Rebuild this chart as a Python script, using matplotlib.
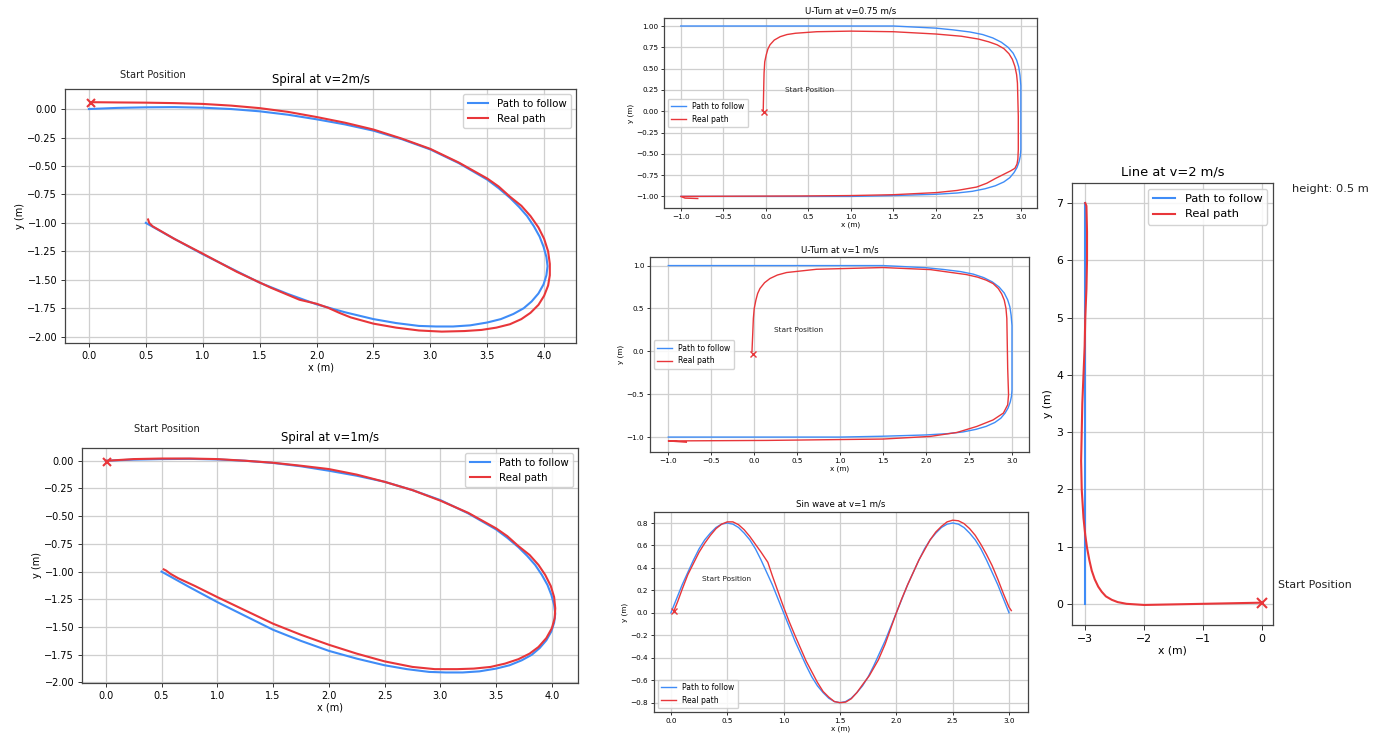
import matplotlib
matplotlib.use("Agg")
import matplotlib.pyplot as plt
from matplotlib.ticker import MultipleLocator

# ---- data ----
# spiral (same path to follow for both speeds)
spiral_path_x = [0, 0.25, 0.5, 0.75, 1.0, 1.25, 1.5, 1.75, 2.0, 2.25, 2.5, 2.75, 3.0, 3.25, 3.5, 3.6,
                 3.7, 3.78, 3.85, 3.91, 3.96, 3.995, 4.02, 4.03, 4.02, 3.995, 3.95, 3.89, 3.82, 3.73,
                 3.62, 3.5, 3.35, 3.2, 3.05, 2.9, 2.7, 2.5, 2.25, 2.0, 1.75, 1.5, 1.25, 1.0, 0.75, 0.5]
spiral_path_y = [0, 0.01, 0.015, 0.017, 0.012, 0.0, -0.02, -0.05, -0.09, -0.135, -0.19, -0.265, -0.355,
                 -0.475, -0.62, -0.695, -0.78, -0.86, -0.94, -1.03, -1.12, -1.21, -1.3, -1.38, -1.46,
                 -1.54, -1.62, -1.69, -1.75, -1.8, -1.845, -1.875, -1.9, -1.91, -1.91, -1.905, -1.88,
                 -1.845, -1.785, -1.715, -1.625, -1.525, -1.4, -1.275, -1.14, -1.0]

spiral2_real_x = [0.03, 0.25, 0.5, 0.75, 1.0, 1.25, 1.5, 1.75, 2.0, 2.25, 2.5, 2.75, 3.0, 3.25, 3.5, 3.6,
                  3.7, 3.8, 3.88, 3.95, 4.0, 4.035, 4.05, 4.05, 4.035, 4.0, 3.95, 3.88, 3.8, 3.7, 3.58,
                  3.45, 3.3, 3.1, 2.9, 2.7, 2.5, 2.3, 2.2, 2.1, 2.0, 1.85, 1.6, 1.3, 1.0, 0.75, 0.56,
                  0.53, 0.52]
spiral2_real_y = [0.06, 0.058, 0.056, 0.052, 0.045, 0.03, 0.008, -0.025, -0.07, -0.12, -0.18, -0.26,
                  -0.35, -0.47, -0.61, -0.68, -0.77, -0.85, -0.94, -1.04, -1.14, -1.25, -1.36, -1.46,
                  -1.55, -1.64, -1.72, -1.79, -1.845, -1.89, -1.92, -1.94, -1.95, -1.955, -1.945,
                  -1.92, -1.885, -1.83, -1.79, -1.745, -1.71, -1.675, -1.57, -1.43, -1.27, -1.14,
                  -1.03, -1.0, -0.97]
spiral2_start = (0.02, 0.05)

spiral1_real_x = [0.01, 0.25, 0.5, 0.75, 1.0, 1.25, 1.5, 1.75, 2.0, 2.25, 2.5, 2.75, 3.0, 3.25, 3.5, 3.6,
                  3.7, 3.8, 3.88, 3.94, 3.99, 4.02, 4.03, 4.025, 4.0, 3.95, 3.88, 3.8, 3.7, 3.58, 3.45,
                  3.3, 3.15, 2.95, 2.75, 2.5, 2.25, 2.0, 1.75, 1.5, 1.25, 1.0, 0.8, 0.65, 0.58, 0.54, 0.52]
spiral1_real_y = [0.0, 0.015, 0.02, 0.02, 0.015, 0.0, -0.018, -0.045, -0.075, -0.125, -0.19, -0.265,
                  -0.36, -0.47, -0.61, -0.68, -0.77, -0.85, -0.94, -1.03, -1.13, -1.23, -1.33, -1.42,
                  -1.51, -1.6, -1.68, -1.74, -1.79, -1.83, -1.86, -1.875, -1.88, -1.88, -1.86, -1.81,
                  -1.74, -1.66, -1.57, -1.47, -1.35, -1.23, -1.13, -1.06, -1.02, -0.99, -0.98]
spiral1_start = (0.01, -0.015)

# U-turn (same path to follow for both speeds)
uturn_path_x = [-1.0, 1.5, 2.0, 2.2, 2.4, 2.55, 2.67, 2.77, 2.85, 2.91, 2.95, 2.975, 2.99, 3.0, 3.0,
                2.995, 2.98, 2.955, 2.92, 2.87, 2.8, 2.7, 2.58, 2.43, 2.25, 2.0, 1.5, 1.0, -1.0]
uturn_path_y = [1.0, 1.0, 0.975, 0.955, 0.93, 0.9, 0.86, 0.81, 0.75, 0.68, 0.6, 0.52, 0.42, 0.3, -0.45,
                -0.52, -0.59, -0.66, -0.72, -0.78, -0.83, -0.875, -0.91, -0.94, -0.96, -0.975, -0.99,
                -1.0, -1.0]

uturn075_real_x = [-0.03, -0.023, -0.02, -0.012, 0.005, 0.025, 0.05, 0.1, 0.17, 0.25, 0.35, 0.6, 1.0,
                   1.5, 2.0, 2.3, 2.5, 2.62, 2.72, 2.8, 2.86, 2.9, 2.93, 2.95, 2.96, 2.97, 2.97, 2.965,
                   2.955, 2.93, 2.88, 2.8, 2.7, 2.6, 2.48, 2.25, 2.01, 1.5, 1.0, 0.4, -1.0, -0.95, -0.8]
uturn075_real_y = [0.0, 0.33, 0.45, 0.58, 0.66, 0.73, 0.78, 0.835, 0.875, 0.9, 0.915, 0.933, 0.94, 0.933,
                   0.906, 0.88, 0.847, 0.815, 0.78, 0.735, 0.675, 0.61, 0.526, 0.43, 0.33, -0.06, -0.45,
                   -0.56, -0.62, -0.67, -0.7, -0.74, -0.79, -0.845, -0.89, -0.93, -0.955, -0.98, -0.99,
                   -0.995, -1.0, -1.02, -1.025]
uturn075_start = (-0.023, -0.01)

uturn1_real_x = [-0.026, -0.018, -0.01, 0.0, 0.02, 0.04, 0.067, 0.12, 0.183, 0.27, 0.377, 0.726, 1.5,
                 2.05, 2.47, 2.6, 2.7, 2.78, 2.84, 2.88, 2.91, 2.93, 2.94, 2.95, 2.96, 2.95, 2.9, 2.78,
                 2.59, 2.36, 2.05, 1.5, 0.144, -1.0, -0.79]
uturn1_real_y = [0.0, 0.19, 0.384, 0.5, 0.6, 0.675, 0.733, 0.8, 0.849, 0.89, 0.919, 0.957, 0.977, 0.953,
                 0.895, 0.865, 0.83, 0.79, 0.733, 0.67, 0.597, 0.5, 0.384, -0.2, -0.508, -0.624, -0.72,
                 -0.8, -0.876, -0.946, -0.992, -1.023, -1.039, -1.045, -1.06]
uturn1_start = (-0.018, -0.03)

# sin wave
sin_path_x = [0.0, 0.05, 0.1, 0.15, 0.2, 0.25, 0.3, 0.35, 0.4, 0.45, 0.5, 0.55, 0.6, 0.65, 0.7, 0.75,
              0.8, 0.85, 0.9, 0.95, 1.0, 1.05, 1.1, 1.15, 1.2, 1.25, 1.3, 1.35, 1.4, 1.45, 1.5, 1.55,
              1.6, 1.65, 1.7, 1.75, 1.8, 1.85, 1.9, 1.95, 2.0, 2.05, 2.1, 2.15, 2.2, 2.25, 2.3, 2.35,
              2.4, 2.45, 2.5, 2.55, 2.6, 2.65, 2.7, 2.75, 2.8, 2.85, 2.9, 2.95, 3.0]
sin_path_y = [0.0, 0.125, 0.25, 0.36, 0.47, 0.57, 0.65, 0.71, 0.76, 0.79, 0.80, 0.79, 0.76, 0.71, 0.65,
              0.57, 0.47, 0.36, 0.25, 0.125, 0.0, -0.125, -0.25, -0.36, -0.47, -0.57, -0.65, -0.71,
              -0.76, -0.79, -0.80, -0.79, -0.76, -0.71, -0.65, -0.57, -0.47, -0.36, -0.25, -0.125, 0.0,
              0.125, 0.25, 0.36, 0.47, 0.57, 0.65, 0.71, 0.76, 0.79, 0.80, 0.79, 0.76, 0.71, 0.65,
              0.57, 0.47, 0.36, 0.25, 0.125, 0.0]
sin_real_x = [0.027, 0.06, 0.1, 0.15, 0.2, 0.25, 0.3, 0.35, 0.4, 0.45, 0.5, 0.55, 0.6, 0.65, 0.7, 0.75,
              0.8, 0.86, 0.9, 0.95, 1.0, 1.05, 1.1, 1.2, 1.3, 1.35, 1.4, 1.45, 1.5, 1.55, 1.6, 1.65,
              1.7, 1.76, 1.84, 1.9, 1.95, 2.0, 2.05, 2.1, 2.2, 2.3, 2.35, 2.4, 2.45, 2.5, 2.55, 2.6,
              2.65, 2.7, 2.75, 2.8, 2.85, 2.9, 2.95, 3.0, 3.02]
sin_real_y = [0.018, 0.1, 0.21, 0.34, 0.44, 0.54, 0.62, 0.69, 0.75, 0.79, 0.81, 0.81, 0.785, 0.74, 0.68,
              0.61, 0.54, 0.45, 0.33, 0.19, 0.05, -0.08, -0.2, -0.43, -0.62, -0.7, -0.75, -0.79, -0.80,
              -0.795, -0.765, -0.71, -0.64, -0.56, -0.42, -0.28, -0.14, 0.0, 0.13, 0.25, 0.47, 0.65,
              0.72, 0.77, 0.81, 0.825, 0.82, 0.795, 0.75, 0.69, 0.61, 0.52, 0.42, 0.3, 0.17, 0.05, 0.02]
sin_start = (0.027, 0.018)

# straight line
line_path_x = [-3.0, -3.0]
line_path_y = [0.0, 7.0]
line_real_x = [0.0, -0.5, -1.0, -1.5, -2.0, -2.3, -2.45, -2.55, -2.65, -2.72, -2.78, -2.84, -2.89, -2.93,
               -2.97, -3.0, -3.03, -3.06, -3.07, -3.06, -3.05, -3.03, -3.01, -3.0, -2.98, -2.97, -2.97,
               -2.98, -3.0]
line_real_y = [0.02, 0.01, 0.0, -0.01, -0.02, 0.0, 0.03, 0.07, 0.13, 0.21, 0.3, 0.43, 0.58, 0.76, 0.98,
               1.2, 1.5, 2.0, 2.5, 3.0, 3.5, 4.0, 4.5, 5.0, 5.5, 6.0, 6.5, 6.95, 7.0]
line_start = (0.0, 0.02)

BLUE = '#3f8cf7'
RED = '#e8363a'
W, H = 1386, 738

fig = plt.figure(figsize=(W / 100, H / 100), dpi=100)


def make_axes(left, right, top, bottom):
    return fig.add_axes([left / W, 1 - bottom / H, (right - left) / W, (bottom - top) / H])


def draw(ax, px, py, rx, ry, start, title, fs, lw, xlim, ylim, xstep, ystep,
         text_pos, legend_loc, title_pad):
    ax.plot(px, py, color=BLUE, lw=lw, label='Path to follow')
    ax.plot(rx, ry, color=RED, lw=lw, label='Real path')
    ax.plot([start[0]], [start[1]], 'x', color=RED, ms=fs * 0.9, mew=lw)
    ax.set_xlim(*xlim)
    ax.set_ylim(*ylim)
    ax.xaxis.set_major_locator(MultipleLocator(xstep))
    ax.yaxis.set_major_locator(MultipleLocator(ystep))
    ax.grid(True, color='#cfcfcf', lw=0.9)
    ax.set_axisbelow(True)
    ax.tick_params(labelsize=fs, length=fs * 0.45, width=0.7, color='#333333', pad=fs * 0.35)
    for s in ax.spines.values():
        s.set_color('#444444')
        s.set_linewidth(0.9)
    ax.set_xlabel('x (m)', fontsize=fs, labelpad=fs * 0.2)
    ax.set_ylabel('y (m)', fontsize=fs, labelpad=fs * 0.3)
    ax.set_title(title, fontsize=fs * 1.2, pad=title_pad)
    ax.text(text_pos[0], text_pos[1], 'Start Position', fontsize=fs * 1.02, color='#222222')
    ax.legend(loc=legend_loc, fontsize=fs * 1.05, edgecolor='#cccccc', framealpha=0.85,
              borderpad=0.45, handlelength=2.0)


# Spiral at v=2m/s
ax1 = make_axes(65, 576, 89, 343)
draw(ax1, spiral_path_x, spiral_path_y, spiral2_real_x, spiral2_real_y, spiral2_start,
     'Spiral at v=2m/s', 7, 1.5, (-0.21, 4.28), (-2.055, 0.176), 0.5, 0.25,
     (0.27, 0.27), 'upper right', 4)

# Spiral at v=1m/s
ax2 = make_axes(82, 578, 448, 683)
draw(ax2, spiral_path_x, spiral_path_y, spiral1_real_x, spiral1_real_y, spiral1_start,
     'Spiral at v=1m/s', 7, 1.5, (-0.213, 4.234), (-2.005, 0.115), 0.5, 0.25,
     (0.255, 0.26), 'upper right', 4.7)

# U-Turn at v=0.75 m/s
ax3 = make_axes(664, 1037, 18, 208)
draw(ax3, uturn_path_x, uturn_path_y, uturn075_real_x, uturn075_real_y, uturn075_start,
     'U-Turn at v=0.75 m/s', 5.2, 1.0, (-1.197, 3.19), (-1.136, 1.094), 0.5, 0.25,
     (0.225, 0.23), 'center left', 3.6)

# U-Turn at v=1 m/s
ax4 = make_axes(650, 1029, 257, 452)
draw(ax4, uturn_path_x, uturn_path_y, uturn1_real_x, uturn1_real_y, uturn1_start,
     'U-Turn at v=1 m/s', 5.2, 1.0, (-1.213, 3.198), (-1.174, 1.1), 0.5, 0.5,
     (0.23, 0.23), 'center left', 3.6)

# Sin wave at v=1 m/s
ax5 = make_axes(654, 1028, 512, 712)
draw(ax5, sin_path_x, sin_path_y, sin_real_x, sin_real_y, sin_start,
     'Sin wave at v=1 m/s', 5.2, 1.0, (-0.15, 3.168), (-0.883, 0.898), 0.5, 0.2,
     (0.28, 0.28), 'lower left', 3.8)

# Line at v=2 m/s
ax6 = make_axes(1072, 1273, 183, 625)
draw(ax6, line_path_x, line_path_y, line_real_x, line_real_y, line_start,
     'Line at v=2 m/s', 7.8, 1.5, (-3.225, 0.186), (-0.37, 7.35), 1, 1,
     (0.27, 0.28), 'upper right', 5.5)
ax6.text(0.5, 7.2, 'height: 0.5 m', fontsize=8.2, color='#222222')

fig.savefig('out.png', dpi=100)
